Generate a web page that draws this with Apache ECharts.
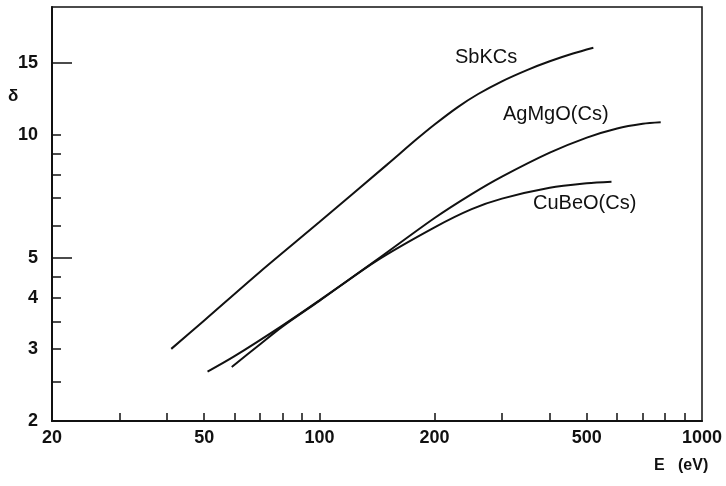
<!DOCTYPE html>
<html>
<head>
<meta charset="utf-8">
<script src="https://cdn.jsdelivr.net/npm/echarts@6/dist/echarts.min.js"></script>
<style>
  html, body { margin: 0; padding: 0; background: #fff; }
  #chart { width: 726px; height: 486px; }
</style>
</head>
<body>
<div id="chart"></div>
<script>
// secondary emission yield delta vs primary energy E (eV), log-log
const sbEnergy = [41, 50, 70, 100, 150, 180, 200, 230, 260, 300, 350, 400, 460, 520];
const sbDelta = [3.0, 3.52, 4.63, 6.12, 8.44, 9.77, 10.59, 11.68, 12.57, 13.5, 14.4, 15.11, 15.78, 16.31];

const agEnergy = [51, 60, 80, 100, 140, 200, 250, 300, 400, 500, 600, 700, 780];
const agDelta = [2.64, 2.88, 3.42, 3.94, 4.92, 6.26, 7.16, 7.9, 9.04, 9.84, 10.36, 10.63, 10.72];

const cuEnergy = [59, 70, 80, 100, 140, 200, 250, 300, 400, 500, 580];
const cuDelta = [2.71, 3.08, 3.40, 3.93, 4.90, 5.94, 6.58, 6.98, 7.42, 7.61, 7.68];

const xLabels = [20, 50, 100, 200, 500, 1000];
const xTicks = [30, 40, 50, 60, 70, 80, 90, 100, 200, 300, 400, 500, 600, 700, 800, 900];
const yLabels = [2, 3, 4, 5, 10, 15];
const yShortTicks = [2.5, 3, 3.5, 4, 4.5, 6, 7, 8, 9, 10];
const yLongTicks = [5, 15];

function pairs(xs, ys) {
  return xs.map(function (x, i) { return [x, ys[i]]; });
}

const font = 'Liberation Sans';
const labelStyle = {
  color: '#111', fontFamily: font, fontSize: 18, fontWeight: 'bold',
  formatter: function (v) { return String(Math.round(v)); }
};

function curve(name, xs, ys) {
  return {
    name: name,
    type: 'line',
    data: pairs(xs, ys),
    smooth: 0.3,
    symbol: 'none',
    lineStyle: { color: '#111', width: 2 }
  };
}

let myChart = echarts.init(document.getElementById('chart'));
myChart.setOption({
  backgroundColor: '#fff',
  animation: false,
  grid: {
    left: 52, right: 24, top: 7, bottom: 65,
    show: true, borderColor: '#111', borderWidth: 1.5, backgroundColor: 'transparent'
  },
  xAxis: {
    type: 'log', logBase: 10, min: 20, max: 1000,
    axisLine: { lineStyle: { color: '#111', width: 2 } },
    axisTick: { inside: true, length: 8, customValues: xTicks, lineStyle: { color: '#111', width: 1.5 } },
    axisLabel: Object.assign({ customValues: xLabels, margin: 8 }, labelStyle),
    splitLine: { show: false },
    minorTick: { show: false }
  },
  yAxis: [
    {
      type: 'log', logBase: 10, min: 2, max: 20.5, position: 'left',
      axisLine: { lineStyle: { color: '#111', width: 2 } },
      axisTick: { inside: true, length: 9, customValues: yShortTicks, lineStyle: { color: '#111', width: 1.5 } },
      axisLabel: Object.assign({ customValues: yLabels, margin: 14 }, labelStyle),
      splitLine: { show: false }
    },
    {
      type: 'log', logBase: 10, min: 2, max: 20.5, position: 'left', offset: 0,
      axisLine: { show: false },
      axisTick: { inside: true, length: 20, customValues: yLongTicks, lineStyle: { color: '#111', width: 1.5 } },
      axisLabel: { show: false },
      splitLine: { show: false }
    }
  ],
  series: [
    curve('SbKCs', sbEnergy, sbDelta),
    curve('AgMgO(Cs)', agEnergy, agDelta),
    curve('CuBeO(Cs)', cuEnergy, cuDelta)
  ],
  graphic: [
    { type: 'text', left: 455, top: 47, style: { text: 'SbKCs', font: '20px ' + font, fill: '#111' } },
    { type: 'text', left: 503, top: 104, style: { text: 'AgMgO(Cs)', font: '20px ' + font, fill: '#111' } },
    { type: 'text', left: 533, top: 193, style: { text: 'CuBeO(Cs)', font: '20px ' + font, fill: '#111' } },
    { type: 'text', left: 8, top: 88, style: { text: 'δ', font: 'bold 17px ' + font, fill: '#111' } },
    { type: 'text', left: 654, top: 458, style: { text: 'E   (eV)', font: 'bold 16px ' + font, fill: '#111' } }
  ]
});
</script>
</body>
</html>
